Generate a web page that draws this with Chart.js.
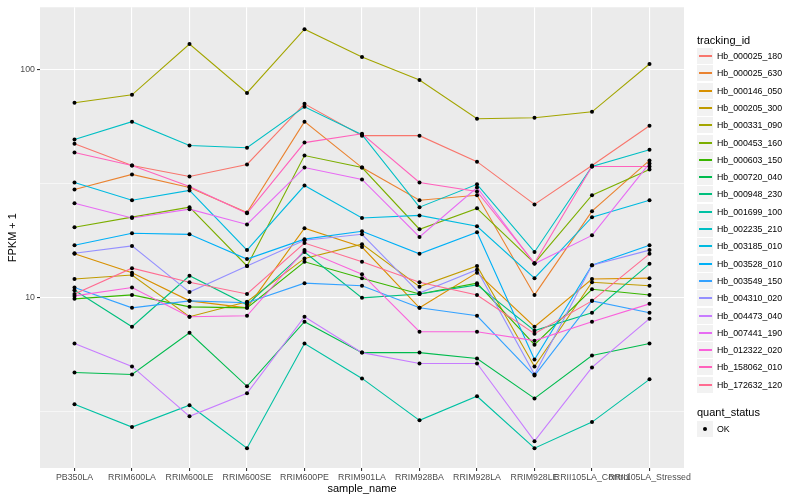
<!DOCTYPE html>
<html lang="en">
  <head>
    <meta charset="UTF-8" />
    <title>FPKM by sample</title>
    <script src="https://cdn.jsdelivr.net/npm/chart.js"></script>
    <style>
      body {
        margin: 0;
        background: #fff;
        font-family: "Liberation Sans", Arial, sans-serif;
      }

      .wrap {
        position: relative;
        width: 800px;
        height: 500px;
      }

      .lg-title {
        position: absolute;
        left: 697px;
        font-size: 11px;
        line-height: 13px;
        color: #000;
      }

      .lg-item {
        position: absolute;
        left: 697px;
        height: 17px;
        width: 100px;
      }

      .lg-key {
        position: absolute;
        left: 0;
        top: 0;
        width: 16px;
        height: 16px;
        background: #f2f2f2;
      }

      .lg-line {
        position: absolute;
        left: 2px;
        width: 13px;
        top: 7px;
        height: 2px;
      }

      .lg-dot {
        position: absolute;
        left: 6px;
        top: 6px;
        width: 4px;
        height: 4px;
        border-radius: 50%;
        background: #000;
      }

      .lg-text {
        position: absolute;
        left: 20px;
        top: 0;
        font-size: 8.8px;
        line-height: 17px;
        color: #000;
        white-space: nowrap;
      }
    </style>
  </head>

  <body>
    <div class="wrap">
      <canvas id="chart"></canvas>
      <div id="legend"></div>
    </div>

    <script>
      // categories on the x axis
      const samples = [
        "PB350LA", "RRIM600LA", "RRIM600LE", "RRIM600SE", "RRIM600PE",
        "RRIM901LA", "RRIM928BA", "RRIM928LA", "RRIM928LE",
        "RRII105LA_Control", "RRII105LA_Stressed",
      ];

      // y axis breaks (log scale)
      const yMajor = [10, 100];
      const yMinor = [3.16, 31.6];

      // FPKM + 1 per tracking id, one value per sample
      const hb000025_180 = [47.5, 38.1, 34.1, 38.5, 71.0, 51.5, 51.5, 39.6, 25.7, 38.1, 56.9];
      const hb000025_630 = [29.9, 34.8, 30.5, 23.7, 59.3, 37.3, 26.8, 28.2, 10.3, 24.0, 40.1];
      const hb000146_050 = [15.6, 12.9, 9.7, 9.04, 20.2, 16.7, 9.04, 12.9, 7.47, 12.1, 12.2];
      const hb000205_300 = [12.1, 12.6, 8.26, 9.61, 14.9, 17.2, 11.2, 13.8, 5.0, 11.7, 11.3];
      const hb000331_090 = [71.8, 77.8, 129.9, 79.3, 151.0, 114.0, 90.4, 61.1, 61.7, 65.5, 106.2];
      const hb000453_160 = [20.4, 22.6, 25.0, 13.8, 42.1, 37.3, 20.0, 24.7, 14.2, 28.2, 36.6];
      const hb000603_150 = [9.9, 10.3, 9.13, 9.04, 14.4, 12.2, 10.4, 11.6, 6.23, 10.9, 10.3];
      const hb000720_040 = [4.7, 4.61, 7.03, 4.09, 7.86, 5.75, 5.75, 5.42, 3.62, 5.58, 6.3];
      const hb000948_230 = [10.8, 7.47, 12.5, 9.32, 15.9, 10.0, 10.4, 11.4, 7.18, 8.6, 14.1];
      const hb001699_100 = [3.41, 2.71, 3.38, 2.19, 6.3, 4.43, 2.9, 3.7, 2.19, 2.85, 4.39];
      const hb002235_210 = [49.5, 59.3, 46.6, 45.6, 68.9, 52.0, 25.0, 31.5, 15.9, 37.7, 44.7];
      const hb003185_010 = [32.1, 26.8, 29.6, 16.2, 31.1, 22.4, 23.0, 20.6, 12.2, 22.6, 26.8];
      const hb003528_010 = [17.0, 19.2, 19.0, 14.8, 18.1, 19.6, 15.6, 19.4, 5.36, 13.9, 17.0];
      const hb003549_150 = [11.1, 9.04, 9.7, 9.51, 11.6, 11.3, 9.04, 8.34, 4.56, 9.7, 8.6];
      const hb004310_020 = [15.7, 16.9, 10.6, 13.8, 17.9, 19.0, 10.5, 13.3, 4.61, 13.9, 16.2];
      const hb004473_040 = [6.3, 5.0, 3.02, 3.81, 8.26, 5.75, 5.15, 5.15, 2.35, 4.95, 8.1];
      const hb007441_190 = [26.0, 22.4, 24.5, 21.0, 37.3, 33.1, 18.5, 30.5, 14.1, 18.8, 38.9];
      const hb012322_020 = [10.2, 11.1, 8.26, 8.34, 16.2, 12.7, 7.1, 7.1, 6.49, 7.86, 9.41];
      const hb158062_010 = [43.4, 38.1, 30.8, 23.5, 48.0, 52.5, 32.1, 29.3, 14.2, 37.7, 37.7];
      const hb172632_120 = [10.4, 13.5, 11.7, 10.4, 17.4, 14.4, 11.7, 10.3, 6.96, 9.7, 15.6];

      const trackingIds = [
        "Hb_000025_180", "Hb_000025_630", "Hb_000146_050", "Hb_000205_300",
        "Hb_000331_090", "Hb_000453_160", "Hb_000603_150", "Hb_000720_040",
        "Hb_000948_230", "Hb_001699_100", "Hb_002235_210", "Hb_003185_010",
        "Hb_003528_010", "Hb_003549_150", "Hb_004310_020", "Hb_004473_040",
        "Hb_007441_190", "Hb_012322_020", "Hb_158062_010", "Hb_172632_120",
      ];
      const seriesValues = [
        hb000025_180, hb000025_630, hb000146_050, hb000205_300, hb000331_090,
        hb000453_160, hb000603_150, hb000720_040, hb000948_230, hb001699_100,
        hb002235_210, hb003185_010, hb003528_010, hb003549_150, hb004310_020,
        hb004473_040, hb007441_190, hb012322_020, hb158062_010, hb172632_120,
      ];

      // ggplot default hue palette for 20 groups
      const palette = [
        "#F8766D", "#EA8331", "#D89000", "#C09B00", "#A3A500",
        "#7CAE00", "#39B600", "#00BB4E", "#00BF7D", "#00C1A3",
        "#00BFC4", "#00BAE0", "#00B0F6", "#35A2FF", "#9590FF",
        "#C77CFF", "#E76BF3", "#FA62DB", "#FF62BC", "#FF6C91",
      ];

      const panelBg = {
        id: "panelBg",
        beforeDraw(chart) {
          const { ctx, chartArea: a } = chart;
          ctx.save();
          ctx.fillStyle = "#EBEBEB";
          ctx.fillRect(a.left, a.top, a.right - a.left, a.bottom - a.top);
          ctx.restore();
        },
      };

      // lines: last group drawn on top, like ggplot
      const lineSets = trackingIds
        .map((id, k) => ({
          type: "line",
          label: id,
          data: seriesValues[k].map((v, i) => ({ x: i, y: v })),
          borderColor: palette[k],
          borderWidth: 1.1,
          pointRadius: 0,
          tension: 0,
          order: 1,
        }))
        .reverse();

      const pointSet = {
        type: "scatter",
        label: "OK",
        data: seriesValues.flatMap((vals) => vals.map((v, i) => ({ x: i, y: v }))),
        backgroundColor: "#000",
        borderWidth: 0,
        pointRadius: 2,
        showLine: false,
        order: 0,
      };

      const isMajor = (v) => yMajor.some((m) => Math.abs(m - v) < 1e-6);

      new Chart(document.getElementById("chart"), {
        type: "line",
        data: { datasets: [pointSet, ...lineSets] },
        options: {
          responsive: true,
          maintainAspectRatio: false,
          animation: false,
          layout: { padding: { left: 0, right: 116, top: 4, bottom: 0 } },
          plugins: {
            legend: { display: false },
            tooltip: { enabled: false },
          },
          scales: {
            x: {
              type: "linear",
              min: -0.6,
              max: 10.6,
              afterBuildTicks: (s) => {
                s.ticks = samples.map((_, i) => ({ value: i }));
              },
              afterFit: (s) => {
                s.height = 32;
              },
              border: { display: false },
              grid: {
                color: "#FFFFFF",
                lineWidth: 1.1,
                tickLength: 3,
                tickColor: "#333333",
                tickWidth: 1.1,
              },
              ticks: {
                autoSkip: false,
                maxRotation: 0,
                minRotation: 0,
                padding: 1,
                color: "#4D4D4D",
                font: { family: "Liberation Sans", size: 8.8 },
                callback: (v) => samples[v] ?? "",
              },
              title: {
                display: true,
                text: "sample_name",
                color: "#000",
                font: { family: "Liberation Sans", size: 11 },
                padding: { top: 0, bottom: 4 },
              },
            },
            y: {
              type: "logarithmic",
              min: 1.792,
              max: 188.4,
              afterBuildTicks: (s) => {
                s.ticks = [yMinor[0], yMajor[0], yMinor[1], yMajor[1]].map((v) => ({ value: v }));
              },
              afterFit: (s) => {
                s.width = 40;
              },
              border: { display: false },
              grid: {
                color: "#FFFFFF",
                lineWidth: (c) => (isMajor(c.tick.value) ? 1.1 : 0.55),
                tickLength: 3,
                tickColor: (c) => (isMajor(c.tick.value) ? "#333333" : "rgba(0,0,0,0)"),
                tickWidth: 1.1,
              },
              ticks: {
                padding: 2,
                color: "#4D4D4D",
                font: { family: "Liberation Sans", size: 8.8 },
                callback: (v) => (isMajor(v) ? String(v) : ""),
              },
              title: {
                display: true,
                text: "FPKM + 1",
                color: "#000",
                font: { family: "Liberation Sans", size: 11 },
                padding: { top: 6, bottom: 0 },
              },
            },
          },
        },
        plugins: [panelBg],
      });

      // legend, built as html next to the panel
      const legend = document.getElementById("legend");
      let html = '<div class="lg-title" style="top:34px">tracking_id</div>';
      trackingIds.forEach((id, k) => {
        const top = Math.round(48 + k * 17.3);
        html +=
          `<div class="lg-item" style="top:${top}px">` +
          `<div class="lg-key"><div class="lg-line" style="background:${palette[k]}"></div></div>` +
          `<div class="lg-text">${id}</div></div>`;
      });
      html += '<div class="lg-title" style="top:406px">quant_status</div>';
      html +=
        '<div class="lg-item" style="top:421px">' +
        '<div class="lg-key"><div class="lg-dot"></div></div>' +
        '<div class="lg-text">OK</div></div>';
      legend.innerHTML = html;
    </script>
  </body>
</html>
